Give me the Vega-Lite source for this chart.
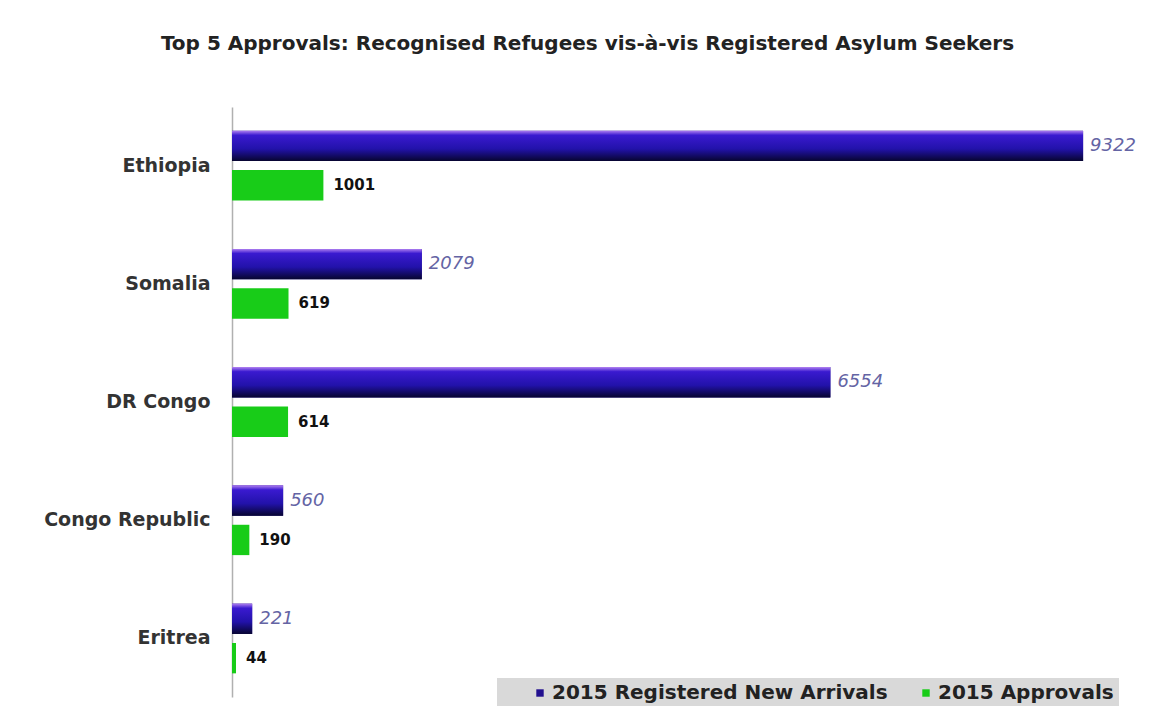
{
  "$schema": "https://vega.github.io/schema/vega-lite/v6.json",
  "autosize": "none",
  "width": 913,
  "height": 590,
  "padding": {"left": 232, "top": 107, "right": 7, "bottom": 9},
  "background": "white",
  "title": {
    "text": "Top 5 Approvals: Recognised Refugees vis-à-vis Registered Asylum Seekers",
    "anchor": "middle",
    "dx": -101,
    "offset": 53,
    "font": "DejaVu Sans",
    "fontSize": 20,
    "fontWeight": "bold",
    "color": "#222222"
  },
  "data": {
    "values": [
      {"country": "Ethiopia", "series": "2015 Registered New Arrivals", "value": 9322},
      {"country": "Ethiopia", "series": "2015 Approvals", "value": 1001},
      {"country": "Somalia", "series": "2015 Registered New Arrivals", "value": 2079},
      {"country": "Somalia", "series": "2015 Approvals", "value": 619},
      {"country": "DR Congo", "series": "2015 Registered New Arrivals", "value": 6554},
      {"country": "DR Congo", "series": "2015 Approvals", "value": 614},
      {"country": "Congo Republic", "series": "2015 Registered New Arrivals", "value": 560},
      {"country": "Congo Republic", "series": "2015 Approvals", "value": 190},
      {"country": "Eritrea", "series": "2015 Registered New Arrivals", "value": 221},
      {"country": "Eritrea", "series": "2015 Approvals", "value": 44}
    ]
  },
  "encoding": {
    "y": {
      "field": "country",
      "type": "nominal",
      "sort": ["Ethiopia", "Somalia", "DR Congo", "Congo Republic", "Eritrea"],
      "scale": {"paddingInner": 0.41, "paddingOuter": 0.2},
      "axis": {
        "title": null,
        "ticks": false,
        "domainColor": "#b0b0b0",
        "domainWidth": 1.5,
        "labelPadding": 22,
        "labelFont": "DejaVu Sans",
        "labelFontSize": 19,
        "labelFontWeight": "bold",
        "labelColor": "#333333"
      }
    },
    "yOffset": {
      "field": "series",
      "type": "nominal",
      "sort": ["2015 Registered New Arrivals", "2015 Approvals"],
      "scale": {"paddingInner": 0.23}
    },
    "x": {
      "field": "value",
      "type": "quantitative",
      "scale": {"domain": [0, 10000]},
      "axis": null
    }
  },
  "layer": [
    {
      "mark": {"type": "bar", "cornerRadius": 0},
      "encoding": {
        "color": {
          "field": "series",
          "type": "nominal",
          "sort": ["2015 Registered New Arrivals", "2015 Approvals"],
          "scale": {"range": ["#22108f", "#18cc18"]},
          "legend": {
            "title": null,
            "orient": "none",
            "direction": "horizontal",
            "legendX": 265,
            "legendY": 571,
            "fillColor": "#d9d9d9",
            "padding": 5,
            "symbolType": "square",
            "symbolSize": 55,
            "symbolStrokeWidth": 0,
            "symbolOffset": 28,
            "labelFont": "DejaVu Sans",
            "labelFontSize": 20,
            "labelFontWeight": "bold",
            "labelColor": "#222222",
            "labelLimit": 400,
            "columnPadding": 0,
            "labelOffset": 2
          }
        }
      }
    },
    {
      "transform": [{"filter": "datum.series === '2015 Registered New Arrivals'"}],
      "mark": {
        "type": "bar",
        "color": {
          "gradient": "linear",
          "x1": 0, "y1": 0, "x2": 0, "y2": 1,
          "stops": [
            {"offset": 0, "color": "#b080f0"},
            {"offset": 0.15, "color": "#3a1ad0"},
            {"offset": 0.6, "color": "#2212aa"},
            {"offset": 1, "color": "#070530"}
          ]
        }
      }
    },
    {
      "transform": [{"filter": "datum.series === '2015 Registered New Arrivals'"}],
      "mark": {
        "type": "text",
        "align": "left",
        "baseline": "middle",
        "dx": 7,
        "font": "DejaVu Sans",
        "fontSize": 18,
        "fontStyle": "italic",
        "color": "#6464a4"
      },
      "encoding": {"text": {"field": "value", "type": "quantitative", "format": "d"}}
    },
    {
      "transform": [{"filter": "datum.series === '2015 Approvals'"}],
      "mark": {
        "type": "text",
        "align": "left",
        "baseline": "middle",
        "dx": 10,
        "font": "DejaVu Sans",
        "fontSize": 15,
        "fontWeight": "bold",
        "color": "#111111"
      },
      "encoding": {"text": {"field": "value", "type": "quantitative", "format": "d"}}
    }
  ],
  "config": {"view": {"stroke": null}}
}
